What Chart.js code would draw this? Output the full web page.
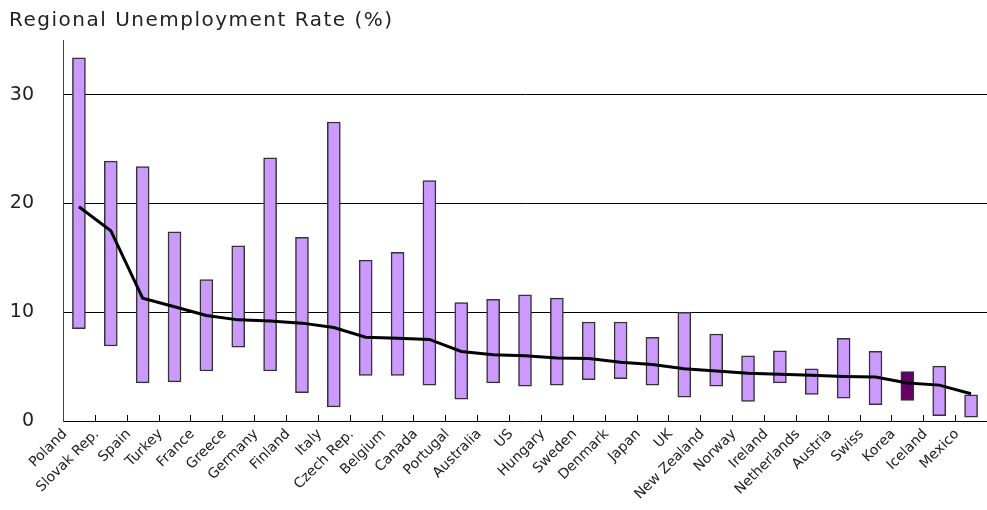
<!DOCTYPE html>
<html>
<head>
<meta charset="utf-8">
<script src="https://cdn.jsdelivr.net/npm/chart.js@4"></script>
<style>
  body { margin: 0; background: #fff; }
  canvas { display: block; }
</style>
</head>
<body>
<canvas id="chart" width="987" height="510"></canvas>
<script>
const countries = ["Poland", "Slovak Rep.", "Spain", "Turkey", "France", "Greece", "Germany", "Finland", "Italy", "Czech Rep.",
  "Belgium", "Canada", "Portugal", "Australia", "US", "Hungary", "Sweden", "Denmark", "Japan", "UK",
  "New Zealand", "Norway", "Ireland", "Netherlands", "Austria", "Swiss", "Korea", "Iceland", "Mexico"];
const highs = [33.4, 23.9, 23.4, 17.4, 13.0, 16.1, 24.2, 16.9, 27.5, 14.8,
  15.5, 22.1, 10.9, 11.2, 11.6, 11.3, 9.1, 9.1, 7.7, 10.0,
  8.0, 6.0, 6.45, 4.8, 7.6, 6.4, 4.55, 5.05, 2.4];
const lows = [8.5, 6.9, 3.5, 3.6, 4.6, 6.8, 4.6, 2.6, 1.3, 4.2,
  4.2, 3.3, 2.0, 3.5, 3.2, 3.3, 3.8, 3.9, 3.3, 2.2,
  3.2, 1.8, 3.5, 2.45, 2.1, 1.5, 1.9, 0.5, 0.35];
const averages = [19.7, 17.5, 11.3, 10.5, 9.7, 9.3, 9.2, 9.0, 8.6, 7.7,
  7.6, 7.5, 6.4, 6.1, 6.0, 5.8, 5.75, 5.4, 5.2, 4.8,
  4.6, 4.4, 4.3, 4.2, 4.1, 4.05, 3.5, 3.3, 2.5];
const yTicks = [0, 10, 20, 30];
const titleText = "Regional Unemployment Rate (%)";

const FONT = "'DejaVu Sans', sans-serif";

// title drawn by hand so the wide letter spacing can be matched
const titlePlugin = {
  id: "titleText",
  afterDraw: (chart) => {
    const ctx = chart.ctx;
    ctx.save();
    ctx.font = "20px " + FONT;
    ctx.fillStyle = "#222";
    ctx.textBaseline = "alphabetic";
    ctx.letterSpacing = "1.5px";
    ctx.fillText(titleText, 9, 26);
    ctx.restore();
  },
};

// small inward tick marks between categories
const tickMarks = {
  id: "tickMarks",
  afterDatasetsDraw: (chart) => {
    const x = chart.scales.x;
    const ctx = chart.ctx;
    const bottom = chart.chartArea.bottom;
    ctx.save();
    ctx.strokeStyle = "#000";
    ctx.lineWidth = 1;
    for (let i = 1; i < countries.length; i++) {
      const px = Math.round((x.getPixelForValue(i - 1) + x.getPixelForValue(i)) / 2) + 0.5;
      ctx.beginPath();
      ctx.moveTo(px, bottom);
      ctx.lineTo(px, bottom - 6);
      ctx.stroke();
    }
    ctx.restore();
  },
};

new Chart(document.getElementById("chart"), {
  data: {
    labels: countries,
    datasets: [
      {
        type: "line",
        data: averages,
        borderColor: "#000",
        borderWidth: 3,
        pointRadius: 0,
        tension: 0,
        order: 0,
      },
      {
        type: "bar",
        data: lows.map((lo, i) => [lo, highs[i]]),
        backgroundColor: countries.map((c) => (c === "Korea" ? "#660066" : "#cc99ff")),
        borderColor: "#333",
        borderWidth: 1.5,
        borderSkipped: false,
        barThickness: 13,
        order: 1,
      },
    ],
  },
  options: {
    responsive: false,
    animation: false,
    layout: { padding: { top: 40, right: 0, left: 0, bottom: 0 } },
    plugins: {
      legend: { display: false },
      tooltip: { enabled: false },
    },
    scales: {
      x: {
        offset: true,
        grid: { display: false },
        border: { color: "#000", width: 1 },
        ticks: {
          autoSkip: false,
          minRotation: 45,
          maxRotation: 45,
          color: "#222",
          padding: -3,
          labelOffset: -14,
          font: { family: FONT, size: 14 },
        },
        afterFit: (scale) => {
          scale.height = 89;
        },
      },
      y: {
        min: 0,
        max: 35,
        afterBuildTicks: (axis) => {
          axis.ticks = yTicks.map((v) => ({ value: v }));
        },
        grid: {
          drawTicks: false,
          color: (c) => (c.tick && c.tick.value === 0 ? "rgba(0,0,0,0)" : "#000"),
          lineWidth: 1,
        },
        border: { color: "#444", width: 1 },
        ticks: {
          padding: 29,
          color: "#222",
          font: { family: FONT, size: 19 },
        },
        afterFit: (scale) => {
          scale.width = 63;
        },
      },
    },
  },
  plugins: [titlePlugin, tickMarks],
});
</script>
</body>
</html>
